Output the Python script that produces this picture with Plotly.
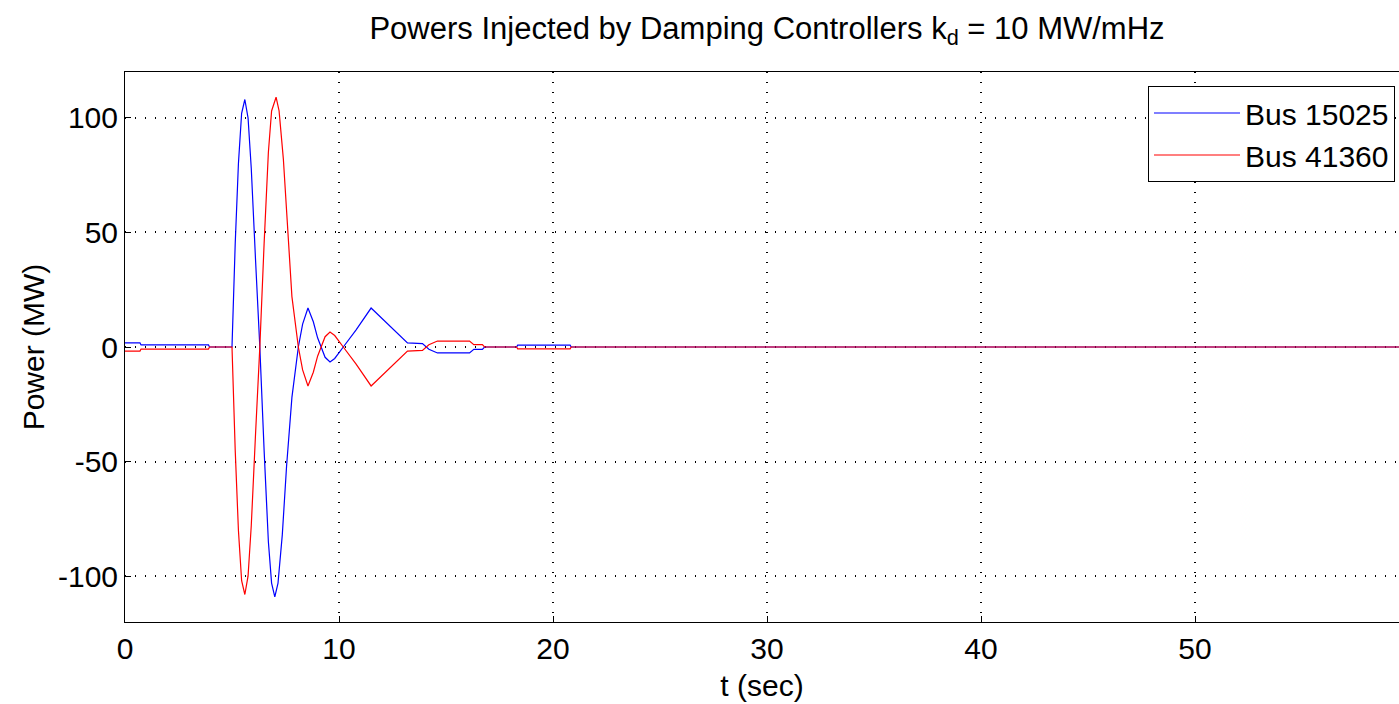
import plotly.graph_objects as go

# ---- data ----
t_blue = [0, 0.7, 0.75, 3.9, 3.95, 5.0, 5.15, 5.3, 5.45, 5.6, 5.75, 5.9, 6.1, 6.3, 6.5, 6.7, 6.85,
          7.0, 7.15, 7.35, 7.55, 7.8, 8.1, 8.3, 8.55, 8.8, 9.0, 9.15, 9.35, 9.58, 9.8, 10.2, 10.8,
          11.5, 12.3, 13.2, 13.9, 14.2, 14.6, 16.1, 16.3, 16.7, 16.8, 18.3, 18.35, 20.8, 20.85, 60]
p_blue = [1.8, 1.8, 0.9, 0.9, 0, 0, 45, 80, 102, 108, 100, 78, 38, 0, -45, -85, -103,
          -109, -103, -82, -52, -22, 0, 10, 17, 11, 4, 0, -4.5, -6.5, -5, 0, 7.5,
          17, 10, 1.8, 1.5, -1, -2.6, -2.6, -1, -1, 0, 0, 0.8, 0.8, 0, 0]

t_red = [0, 0.7, 0.75, 3.9, 3.95, 5.0, 5.15, 5.3, 5.45, 5.6, 5.75, 5.9, 6.1, 6.3, 6.5, 6.7, 6.85,
         7.06, 7.2, 7.4, 7.6, 7.8, 8.1, 8.3, 8.55, 8.8, 9.0, 9.15, 9.35, 9.58, 9.8, 10.2, 10.8,
         11.5, 12.3, 13.2, 13.9, 14.2, 14.6, 16.1, 16.3, 16.7, 16.8, 18.3, 18.35, 20.8, 20.85, 60]
p_red = [-1.8, -1.8, -0.9, -0.9, 0, 0, -45, -80, -102, -108, -100, -78, -38, 0, 45, 85, 103,
         109, 103, 82, 52, 22, 0, -10, -17, -11, -4, 0, 4.5, 6.5, 5, 0, -7.5,
         -17, -10, -1.8, -1.5, 1, 2.6, 2.6, 1, 1, 0, 0, -0.8, -0.8, 0, 0]

x_ticks = [0, 10, 20, 30, 40, 50]
y_ticks = [-100, -50, 0, 50, 100]

FONT = "Liberation Sans, Arial, sans-serif"
FS = 30

fig = go.Figure()
fig.add_trace(go.Scatter(x=t_blue, y=p_blue, mode="lines", name="Bus 15025",
                         line=dict(color="#0000ff", width=1.2)))
fig.add_trace(go.Scatter(x=t_red, y=p_red, mode="lines", name="Bus 41360",
                         line=dict(color="#ff0000", width=1.2)))

W, H = 1399, 704
L, T, B = 125, 72, 82
plot_w = W - L

fig.update_layout(
    width=W, height=H,
    margin=dict(l=L, r=0, t=T, b=B),
    paper_bgcolor="white", plot_bgcolor="white",
    font=dict(family=FONT, size=FS, color="black"),
    title=dict(text="Powers Injected by Damping Controllers k<sub>d</sub> = 10 MW/mHz",
               x=767 / W, xanchor="center", xref="container",
               y=1 - 28 / H, yanchor="middle", yref="container",
               font=dict(family=FONT, size=31, color="black")),
    showlegend=True,
    legend=dict(x=(1395 - L) / plot_w, xanchor="right",
                y=(H - B - 86) / (H - T - B), yanchor="top",
                bgcolor="white", bordercolor="black", borderwidth=1,
                font=dict(family=FONT, size=FS, color="black"),
                itemwidth=86, tracegroupgap=0),
    xaxis=dict(range=[0, (W - L) / 21.4], tickvals=x_ticks, ticktext=[str(v) for v in x_ticks],
               showline=True, linecolor="black", linewidth=1, mirror=True,
               ticks="inside", ticklen=6, tickcolor="black",
               showgrid=True, gridcolor="black", griddash="1px,9px", gridwidth=1.5,
               zeroline=False, tickfont=dict(family=FONT, size=FS),
               title=dict(text="t (sec)", standoff=10, font=dict(family=FONT, size=FS)),
               automargin=False),
    yaxis=dict(range=[-120, 120], tickvals=y_ticks, ticktext=[str(v) for v in y_ticks],
               showline=True, linecolor="black", linewidth=1, mirror=False,
               ticks="inside", ticklen=6, tickcolor="black",
               showgrid=True, gridcolor="black", griddash="1px,9px", gridwidth=1.5,
               zeroline=False, tickfont=dict(family=FONT, size=FS),
               title=dict(text="Power (MW)", standoff=4, font=dict(family=FONT, size=FS)),
               automargin=False),
)

fig.write_html("out.html")
